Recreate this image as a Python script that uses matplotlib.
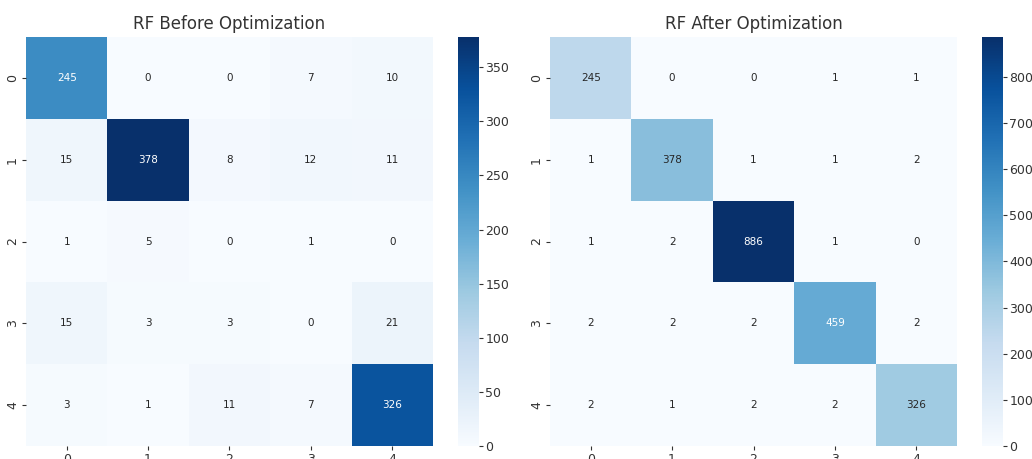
import numpy as np
import matplotlib
matplotlib.use('Agg')
import matplotlib.pyplot as plt
import seaborn as sns

labels = ['0', '1', '2', '3', '4']
before = [[245, 0, 0, 7, 10],
          [15, 378, 8, 12, 11],
          [1, 5, 0, 1, 0],
          [15, 3, 3, 0, 21],
          [3, 1, 11, 7, 326]]
after = [[245, 0, 0, 1, 1],
         [1, 378, 1, 1, 2],
         [1, 2, 886, 1, 0],
         [2, 2, 2, 459, 2],
         [2, 1, 2, 2, 326]]
titles = ['RF Before Optimization', 'RF After Optimization']

plt.rcParams['text.color'] = '#333333'
plt.rcParams['xtick.color'] = '#333333'
plt.rcParams['ytick.color'] = '#333333'

W, H = 1032, 459
fig = plt.figure(figsize=(W / 100, H / 100), dpi=100)

def box(x0, y0, x1, y1):
    return [x0 / W, (H - y1) / H, (x1 - x0) / W, (y1 - y0) / H]

panels = [((26, 433), (458, 479)), ((550, 957), (982, 1003))]
for data, title, (hx, cx) in zip([before, after], titles, panels):
    ax = fig.add_axes(box(hx[0], 37, hx[1], 446))
    cax = fig.add_axes(box(cx[0], 37, cx[1], 446))
    sns.heatmap(np.array(data), annot=True, fmt='d', cmap='Blues', ax=ax, cbar_ax=cax,
                xticklabels=labels, yticklabels=labels, annot_kws={'fontsize': 7.5})
    ax.set_title(title, fontsize=12, color='#333333')
    ax.tick_params(labelsize=9, length=3, width=0.8, pad=2)
    cax.tick_params(labelsize=9, length=3, width=0.8, pad=1.5)

fig.savefig('out.png', dpi=100)
